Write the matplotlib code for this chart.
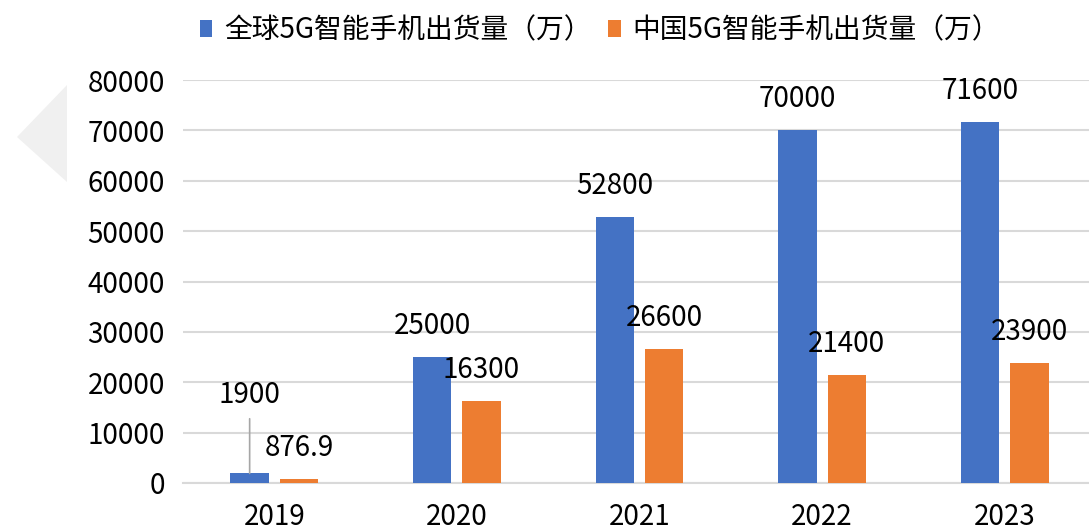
import matplotlib
matplotlib.use('Agg')
import matplotlib.pyplot as plt
from matplotlib.patches import Patch, Polygon
import numpy as np

plt.rcParams['font.family'] = ['Noto Sans CJK SC', 'DejaVu Sans']

# 数据
years = ['2019', '2020', '2021', '2022', '2023']
global_5g = [1900, 25000, 52800, 70000, 71600]
china_5g = [876.9, 16300, 26600, 21400, 23900]
global_labels = ['1900', '25000', '52800', '70000', '71600']
china_labels = ['876.9', '16300', '26600', '21400', '23900']
legend_names = ['全球5G智能手机出货量（万）', '中国5G智能手机出货量（万）']

BLUE = '#4472C4'
ORANGE = '#ED7D31'
W, H = 1089, 531
FS = 20

fig = plt.figure(figsize=(W / 100, H / 100), dpi=100)
fig.patch.set_facecolor('white')

# 左侧灰色三角装饰
tri = Polygon([[17 / W, 1 - 137 / H], [67 / W, 1 - 85 / H], [67 / W, 1 - 182 / H]],
              closed=True, transform=fig.transFigure, facecolor='#F0F0F0',
              edgecolor='none', zorder=0)
fig.patches.append(tri)

ax = fig.add_axes([183 / W, 48 / H, (1096 - 183) / W, 403 / H])
x = np.arange(len(years))
bw = 0.21
off = 0.135
ax.bar(x - off, global_5g, bw, color=BLUE, zorder=3)
ax.bar(x + off, china_5g, bw, color=ORANGE, zorder=3)

ax.set_xlim(-0.5, 4.5)
ax.set_ylim(0, 80000)
ax.set_yticks(np.arange(0, 80001, 10000))
ax.set_xticks(x)
ax.set_xticklabels(years)
ax.tick_params(axis='both', length=0, labelsize=FS, colors='#000000')
ax.tick_params(axis='y', pad=13)
ax.tick_params(axis='x', pad=14)
ax.grid(axis='y', color='#D9D9D9', linewidth=1.5, zorder=0)
for s in ['top', 'right', 'left']:
    ax.spines[s].set_visible(False)
ax.spines['bottom'].set_color('#D9D9D9')
ax.spines['bottom'].set_linewidth(1.5)

lift = 31 * 72 / 100
for i in range(len(years)):
    if i == 0:
        ax.annotate(global_labels[i], xy=(x[i] - off, global_5g[i]),
                    xytext=(0, 78 * 72 / 100), textcoords='offset points',
                    ha='center', va='center', fontsize=FS,
                    arrowprops=dict(arrowstyle='-', color='#A6A6A6', lw=1.2,
                                    shrinkA=4, shrinkB=0))
    else:
        ax.annotate(global_labels[i], xy=(x[i] - off, global_5g[i]),
                    xytext=(0, lift), textcoords='offset points',
                    ha='center', va='center', fontsize=FS)
    ax.annotate(china_labels[i], xy=(x[i] + off, china_5g[i]),
                xytext=(0, lift), textcoords='offset points',
                ha='center', va='center', fontsize=FS)

handles = [Patch(facecolor=BLUE, edgecolor='none'), Patch(facecolor=ORANGE, edgecolor='none')]
fig.legend(handles, legend_names, loc='center', bbox_to_anchor=(600 / W, 1 - 30 / H),
           ncol=2, frameon=False, fontsize=FS, handlelength=0.45, handleheight=0.55,
           handletextpad=0.42, columnspacing=0.6)

fig.savefig('out.png', dpi=100)
